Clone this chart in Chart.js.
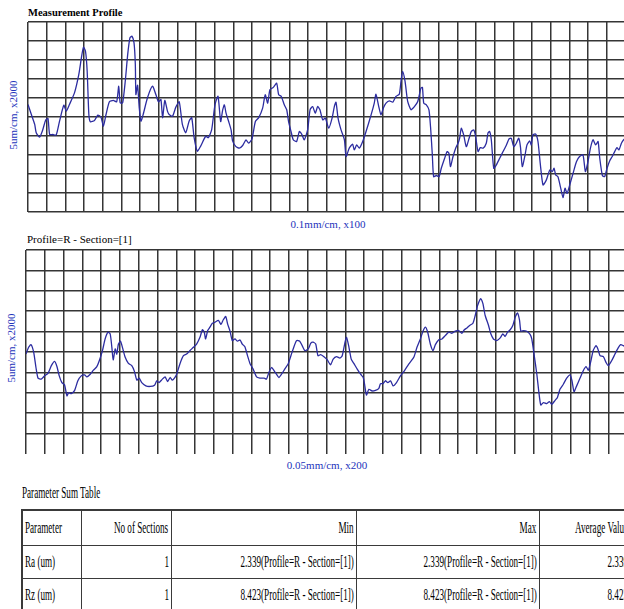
<!DOCTYPE html>
<html>
<head>
<meta charset="utf-8">
<script src="https://cdn.jsdelivr.net/npm/chart.js"></script>
<style>
  html, body { margin: 0; padding: 0; background: #fff; }
  body { position: relative; width: 624px; height: 609px; overflow: hidden;
         font-family: "Liberation Serif", "Times New Roman", serif; }
  .box { position: absolute; }
  .lbl { position: absolute; white-space: nowrap; line-height: 1; }
  .blue { color: #2233bb; font-size: 11px; }
  .mid { transform: translate(-50%, -50%); }
  .rot { transform: translate(-50%, -50%) rotate(-90deg); }
  #sumTitle { left: 22px; top: 485px; font-size: 16px; transform: scaleX(0.57); transform-origin: left center; }
  table { position: absolute; left: 21px; top: 509px; border-collapse: collapse; table-layout: fixed;
          font-size: 16px; border: 2px solid #3a3a3a; }
  td { position: relative; border: 1.5px solid #3a3a3a; padding: 0; overflow: hidden; white-space: nowrap; }
  tr.head td { height: 34px; }
  tr.body td { height: 32px; }
  td span { position: absolute; top: 50%; line-height: 1; }
  td.l span { left: 2px; transform: translateY(-50%) scaleX(0.57); transform-origin: left center; }
  td.r span { right: 2px; transform: translateY(-50%) scaleX(0.57); transform-origin: right center; }
</style>
</head>
<body>

<div class="lbl" style="left:28px; top:8px; font-size:10.5px; font-weight:bold;">Measurement Profile</div>
<div class="lbl blue rot" style="left:13px; top:115px;">5um/cm, x2000</div>
<div class="box" style="left:26px; top:20px; width:620px; height:194px;"><canvas id="profileChart"></canvas></div>
<div class="lbl blue mid" style="left:328px; top:224px;">0.1mm/cm, x100</div>

<div class="lbl" style="left:27px; top:234px; font-size:11px;">Profile=R - Section=[1]</div>
<div class="lbl blue rot" style="left:11px; top:348px;">5um/cm, x2000</div>
<div class="box" style="left:23.7px; top:248px; width:624px; height:208px;"><canvas id="roughChart"></canvas></div>
<div class="lbl blue mid" style="left:327px; top:465px;">0.05mm/cm, x200</div>

<div class="lbl" id="sumTitle">Parameter Sum Table</div>
<table id="sumTable"></table>

<script>
// grid: divisions across / down each trace
const xDivisions = 33;
const yDivisions = 10;

// measured profile, x and height in chart divisions
const profileX = [0, 0.18, 0.36, 0.44, 0.62, 0.77, 0.94, 1.07, 1.16, 1.33, 1.51, 1.69, 1.92, 2.05, 2.22, 2.49, 2.72, 2.86, 2.97, 3.08,
  3.17, 3.26, 3.34, 3.56, 3.74, 3.91, 4.04, 4.18, 4.36, 4.57, 4.75, 4.86, 4.94, 5.07, 5.21, 5.34, 5.46, 5.57, 5.68, 5.75,
  5.78, 5.87, 5.96, 6.05, 6.17, 6.4, 6.67, 6.85, 6.99, 7.12, 7.21, 7.33, 7.47, 7.56, 7.74, 7.92, 8.1, 8.27, 8.45, 8.63,
  8.77, 8.9, 9.07, 9.25, 9.52, 9.66, 9.84, 10.02, 10.18, 10.32, 10.43, 10.52, 10.61, 10.75, 10.88, 10.96, 11.14, 11.32, 11.5, 11.68,
  11.82, 12.0, 12.18, 12.36, 12.57, 12.71, 12.84, 12.96, 13.14, 13.32, 13.43, 13.57, 13.73, 13.86, 13.96, 14.09, 14.21, 14.39, 14.54, 14.68,
  14.8, 14.98, 15.11, 15.25, 15.39, 15.52, 15.64, 15.79, 15.93, 16.11, 16.29, 16.41, 16.5, 16.61, 16.77, 16.95, 17.04, 17.21, 17.39, 17.48,
  17.61, 17.75, 17.93, 18.11, 18.38, 18.55, 18.64, 18.79, 18.91, 19.05, 19.18, 19.36, 19.54, 19.71, 19.89, 19.98, 20.07, 20.2, 20.34, 20.52,
  20.7, 20.88, 21.05, 21.13, 21.2, 21.34, 21.48, 21.57, 21.66, 21.73, 21.88, 22.02, 22.14, 22.32, 22.45, 22.55, 22.63, 22.77, 22.91, 23.04,
  23.13, 23.21, 23.34, 23.48, 23.63, 23.75, 23.88, 23.98, 24.11, 24.23, 24.38, 24.55, 24.64, 24.73, 24.82, 24.95, 25.09, 25.27, 25.45, 25.63,
  25.77, 25.89, 26.02, 26.16, 26.29, 26.38, 26.48, 26.63, 26.73, 26.88, 26.96, 27.05, 27.2, 27.32, 27.45, 27.59, 27.77, 27.95, 28.09, 28.18,
  28.27, 28.39, 28.52, 28.66, 28.77, 28.88, 29.02, 29.2, 29.38, 29.55, 29.73, 29.86, 30.0, 30.13, 30.27, 30.41, 30.54, 30.63, 30.77, 30.89,
  31.02, 31.16, 31.3, 31.43, 31.55, 31.66, 31.79, 31.91, 32.1];
const profileY = [5.66, 5.13, 4.61, 4.17, 3.94, 4.26, 4.82, 4.92, 4.08, 4.08, 4.05, 4.78, 5.62, 5.31, 5.66, 6.27, 7.23, 8.11, 8.67, 8.46,
  7.41, 5.13, 4.75, 4.82, 5.1, 4.99, 4.52, 5.13, 5.8, 5.87, 5.8, 6.62, 5.74, 5.74, 6.88, 8.28, 9.16, 9.25, 8.9, 7.76,
  6.18, 6.67, 5.48, 4.78, 5.13, 6.01, 6.62, 6.18, 5.8, 5.92, 4.96, 5.87, 5.31, 5.13, 5.04, 5.52, 5.8, 4.61, 4.17, 4.78,
  4.96, 3.91, 3.2, 3.47, 3.99, 3.91, 4.34, 5.66, 6.09, 4.76, 5.38, 5.64, 5.2, 4.76, 4.32, 3.74, 3.44, 3.36, 3.5, 3.8,
  3.62, 3.85, 4.76, 4.97, 5.47, 6.17, 5.73, 6.43, 6.56, 6.78, 6.17, 6.08, 5.64, 5.38, 4.76, 4.24, 3.8, 3.71, 4.24, 4.06,
  3.8, 4.32, 5.38, 5.55, 5.2, 5.55, 5.38, 4.85, 4.94, 4.41, 4.94, 5.55, 5.78, 4.94, 4.32, 3.8, 2.92, 3.36, 3.57, 3.27,
  3.53, 3.36, 3.71, 4.24, 5.11, 5.73, 6.2, 5.55, 5.11, 5.5, 5.73, 5.85, 5.78, 6.08, 6.2, 6.87, 7.4, 6.87, 5.82, 5.38,
  5.55, 5.82, 6.52, 6.56, 5.73, 5.64, 5.38, 4.41, 3.01, 1.86, 1.92, 1.86, 2.3, 2.83, 3.18, 3.09, 2.39, 2.92, 3.36, 3.62,
  3.92, 4.41, 4.06, 3.44, 3.88, 4.24, 4.32, 3.97, 3.18, 3.39, 3.36, 3.62, 4.15, 4.24, 3.8, 2.3, 2.48, 2.83, 3.18, 3.53,
  3.85, 3.88, 3.44, 3.62, 3.88, 3.44, 2.39, 3.01, 3.53, 3.74, 3.53, 4.06, 4.1, 3.71, 2.48, 1.42, 1.69, 2.21, 2.13, 2.3,
  1.95, 1.86, 1.34, 0.76, 1.25, 0.98, 1.42, 2.04, 2.65, 2.92, 3.01, 2.13, 2.65, 3.36, 3.8, 3.53, 3.71, 2.83, 1.92, 1.86,
  2.3, 2.69, 2.92, 3.18, 3.39, 3.27, 3.62, 3.8, 3.95];

// roughness profile (R, section 1), x and height in chart divisions
const roughX = [0, 0.14, 0.27, 0.41, 0.53, 0.64, 0.81, 0.99, 1.17, 1.35, 1.52, 1.65, 1.77, 1.91, 2.05, 2.18, 2.27, 2.41, 2.59, 2.76,
  2.94, 3.12, 3.24, 3.42, 3.59, 3.77, 3.9, 4.07, 4.21, 4.36, 4.48, 4.57, 4.64, 4.75, 4.83, 4.92, 5.03, 5.14, 5.28, 5.45,
  5.63, 5.77, 5.9, 6.02, 6.16, 6.38, 6.61, 6.84, 6.96, 7.08, 7.26, 7.4, 7.54, 7.67, 7.79, 7.9, 8.02, 8.2, 8.38, 8.55,
  8.73, 8.91, 9.08, 9.26, 9.39, 9.49, 9.56, 9.67, 9.79, 9.92, 10.06, 10.24, 10.38, 10.5, 10.63, 10.73, 10.86, 10.98, 11.12, 11.26,
  11.39, 11.51, 11.65, 11.79, 11.92, 12.09, 12.27, 12.45, 12.68, 12.8, 12.93, 13.07, 13.21, 13.33, 13.46, 13.6, 13.77, 13.95, 14.1, 14.22,
  14.4, 14.57, 14.7, 14.84, 15.02, 15.16, 15.28, 15.42, 15.54, 15.68, 15.86, 16.04, 16.21, 16.35, 16.53, 16.71, 16.83, 16.96, 17.06, 17.19,
  17.31, 17.45, 17.63, 17.81, 17.95, 18.02, 18.12, 18.25, 18.42, 18.6, 18.78, 18.87, 19.01, 19.13, 19.26, 19.4, 19.54, 19.72, 19.93, 20.14,
  20.37, 20.64, 20.81, 20.99, 21.13, 21.26, 21.38, 21.52, 21.66, 21.79, 21.96, 22.14, 22.32, 22.5, 22.67, 22.85, 23.03, 23.2, 23.33, 23.47,
  23.61, 23.79, 23.91, 24.04, 24.21, 24.32, 24.44, 24.62, 24.74, 24.88, 25.06, 25.24, 25.38, 25.5, 25.63, 25.77, 25.91, 26.04, 26.16, 26.27,
  26.34, 26.48, 26.65, 26.83, 26.92, 27.04, 27.19, 27.29, 27.4, 27.54, 27.72, 27.86, 27.98, 28.16, 28.28, 28.42, 28.6, 28.78, 28.96, 29.06,
  29.17, 29.31, 29.49, 29.66, 29.81, 29.93, 30.05, 30.19, 30.34, 30.44, 30.55, 30.73, 30.87, 30.99, 31.17, 31.35, 31.52, 31.65, 31.79, 32.0];
const roughY = [4.9, 5.23, 5.36, 4.98, 4.24, 3.72, 3.67, 3.83, 3.95, 4.33, 4.54, 4.28, 3.83, 3.5, 3.39, 2.85, 3.01, 2.96, 3.12, 3.59,
  3.83, 3.88, 3.78, 3.91, 4.11, 4.28, 4.57, 5.07, 5.64, 5.97, 5.89, 5.23, 4.61, 5.15, 4.9, 5.39, 5.53, 5.2, 4.74, 4.44,
  4.33, 4.05, 3.62, 3.72, 3.5, 3.34, 3.31, 3.37, 3.59, 3.5, 3.67, 3.78, 3.55, 3.75, 3.62, 3.72, 3.91, 4.44, 4.82, 4.9,
  5.07, 5.23, 5.39, 5.72, 6.09, 5.97, 5.64, 6.05, 6.22, 6.41, 6.46, 6.55, 6.35, 6.58, 6.74, 6.38, 6.02, 5.56, 5.64, 5.53,
  5.59, 5.39, 5.26, 4.82, 4.44, 4.16, 3.78, 3.72, 3.72, 3.67, 4.0, 4.24, 4.08, 3.91, 3.75, 3.91, 4.16, 4.41, 4.82, 5.15,
  5.56, 5.53, 5.31, 5.07, 5.15, 5.43, 5.48, 5.39, 4.82, 4.87, 4.77, 4.61, 4.37, 4.65, 4.77, 4.7, 4.82, 5.39, 5.72, 5.23,
  4.65, 4.44, 4.16, 3.91, 3.75, 3.42, 2.89, 3.17, 3.09, 3.12, 3.22, 3.45, 3.45, 3.59, 3.5, 3.59, 3.34, 3.5, 3.83, 4.08,
  4.41, 4.74, 5.23, 5.64, 6.02, 6.22, 5.97, 5.39, 5.07, 5.36, 5.59, 5.64, 5.81, 5.97, 5.92, 6.02, 6.05, 5.92, 6.09, 6.18,
  6.3, 6.41, 6.79, 7.29, 7.62, 7.37, 6.79, 6.3, 5.89, 5.64, 5.56, 5.69, 5.89, 5.76, 5.97, 6.09, 6.3, 6.71, 6.91, 6.55,
  6.02, 6.05, 6.02, 5.86, 5.64, 4.9, 3.91, 3.09, 2.4, 2.52, 2.47, 2.57, 2.43, 2.63, 2.76, 3.17, 3.42, 3.72, 3.88, 3.59,
  3.06, 3.34, 3.72, 4.08, 4.28, 4.11, 4.49, 5.07, 5.31, 5.15, 4.82, 4.77, 4.49, 4.33, 4.57, 4.9, 5.2, 5.36, 5.31, 5.2];

// parameter summary
const tableHeaders = ['Parameter', 'No of Sections', 'Min', 'Max', 'Average Value'];
const tableRows = [
  ['Ra (um)', '1', '2.339(Profile=R - Section=[1])', '2.339(Profile=R - Section=[1])', '2.339'],
  ['Rz (um)', '1', '8.423(Profile=R - Section=[1])', '8.423(Profile=R - Section=[1])', '8.423']
];
const colWidths = [59, 90, 185, 183, 92];

const gridColor = '#353535';
const traceColor = '#2c2ca0';

function divisionTicks(n) {
  return Array.from({ length: n + 1 }, (_, i) => ({ value: i }));
}

function makeTrace(canvasId, xs, ys, hideBottomLine) {
  const points = xs.map((x, i) => ({ x: x, y: ys[i] }));
  return new Chart(document.getElementById(canvasId), {
    type: 'line',
    data: {
      datasets: [{
        data: points,
        borderColor: traceColor,
        borderWidth: 1.3,
        pointRadius: 0,
        tension: 0.2,
        fill: false
      }]
    },
    options: {
      animation: false,
      responsive: true,
      maintainAspectRatio: false,
      layout: { padding: { left: 2, right: 2, top: 2, bottom: 2 } },
      plugins: { legend: { display: false }, tooltip: { enabled: false } },
      scales: {
        x: {
          type: 'linear', min: 0, max: xDivisions,
          afterBuildTicks: axis => { axis.ticks = divisionTicks(xDivisions); },
          ticks: { display: false },
          border: { display: false },
          grid: { color: gridColor, lineWidth: 1.5, drawTicks: false }
        },
        y: {
          type: 'linear', min: 0, max: yDivisions,
          afterBuildTicks: axis => { axis.ticks = divisionTicks(yDivisions); },
          ticks: { display: false },
          border: { display: false },
          grid: {
            color: ctx => (hideBottomLine && ctx.tick && ctx.tick.value === 0) ? 'rgba(0,0,0,0)' : gridColor,
            lineWidth: 1.5, drawTicks: false
          }
        }
      }
    }
  });
}

makeTrace('profileChart', profileX, profileY, false);
makeTrace('roughChart', roughX, roughY, true);

// summary table
const table = document.getElementById('sumTable');
const colgroup = document.createElement('colgroup');
colWidths.forEach(w => {
  const c = document.createElement('col');
  c.style.width = w + 'px';
  colgroup.appendChild(c);
});
table.appendChild(colgroup);
[tableHeaders].concat(tableRows).forEach((row, r) => {
  const tr = document.createElement('tr');
  tr.className = r === 0 ? 'head' : 'body';
  row.forEach((text, i) => {
    const td = document.createElement('td');
    td.className = i === 0 ? 'l' : 'r';
    const span = document.createElement('span');
    span.textContent = text;
    td.appendChild(span);
    tr.appendChild(td);
  });
  table.appendChild(tr);
});
table.style.width = colWidths.reduce((a, b) => a + b, 0) + 'px';
</script>
</body>
</html>
